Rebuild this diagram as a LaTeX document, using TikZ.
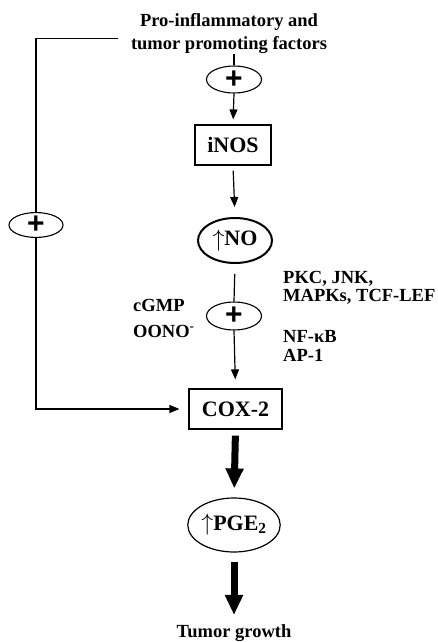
\documentclass[tikz,border=0pt]{standalone}
\usepackage{fontspec}
\setmainfont{Liberation Serif}
\newfontfamily\plusfont{Liberation Sans}
\usetikzlibrary{arrows.meta,shapes.geometric}
\tikzset{
  lbl/.style={font=\fontsize{18.5}{23}\selectfont\bfseries, inner sep=0pt},
  boxnode/.style={draw, line width=1.2pt, minimum height=40pt, inner sep=0pt,
    font=\fontsize{22}{26}\selectfont\bfseries},
  ovalnode/.style={draw, ellipse, line width=1.2pt, inner sep=0pt,
    font=\fontsize{22}{26}\selectfont\bfseries},
  plusnode/.style={draw, ellipse, fill=white, line width=1.1pt, inner sep=0pt,
    font=\plusfont\fontsize{30}{30}\selectfont\bfseries},
  thin/.style={line width=1.2pt},
  thinarrow/.style={line width=1.2pt, -{Triangle[width=8pt,length=10pt]}},
  thickarrow/.style={line width=7pt, -{Triangle[width=17pt,length=20pt]}},
}
\newcommand{\upmark}{\raisebox{-0.5pt}{\scalebox{1.15}{$\uparrow$}}}
\begin{document}
\begin{tikzpicture}[x=1pt,y=-1pt]
  \useasboundingbox (0,0) rectangle (437,642);

  % main chain
  \node[lbl, align=center] (title) at (229,34) {Pro-inflammatory and\\tumor promoting factors};
  \node[plusnode, minimum width=55pt, minimum height=27pt] (plusA) at (234,79.5) {+};
  \node[boxnode, minimum width=76pt] (inos) at (233,145) {iNOS};
  \node[ovalnode, line width=2pt, minimum width=74pt, minimum height=45pt] (no) at (235,240.5) {\upmark NO};
  \node[plusnode, minimum width=55pt, minimum height=28pt] (plusB) at (234,316) {+};
  \node[boxnode, minimum width=93pt] (cox) at (235.5,409) {COX-2};
  \node[ovalnode, minimum width=90pt, minimum height=54pt] (pge) at (234,525) {\upmark PGE\textsubscript{2}};
  \node[lbl, anchor=base] (tumor) at (234,637) {Tumor growth};

  % feedback branch
  \node[plusnode, minimum width=54pt, minimum height=22pt] (plusL) at (36,225) {+};
  \coordinate (fbstart) at (118,38.7);

  % side labels
  \node[lbl, anchor=base west] (pkc) at (283,283) {PKC, JNK,};
  \node[lbl, anchor=base west] (mapk) at (283,301) {MAPKs, TCF-LEF};
  \node[lbl, anchor=base west] (nfkb) at (283,342) {NF-κB};
  \node[lbl, anchor=base west] (ap1) at (283,361) {AP-1};
  \node[lbl, anchor=base west] (cgmp) at (133,311) {cGMP};
  \node[lbl, anchor=base west] (oono) at (133,337) {OONO\textsuperscript{-}};

  % connectors
  \draw[thin] (plusA.north |- title.south) -- (plusA.north);
  \draw[thinarrow, shorten >=5pt] (plusA.south) -- (inos.north);
  \draw[thinarrow, shorten <=5pt, shorten >=10pt] (inos.south) -- (no.north);
  \draw[thin, shorten <=10pt] (no.south) -- (plusB.north);
  \draw[thinarrow, shorten >=9pt] (plusB.south) -- (cox.north);
  \draw[thickarrow, shorten <=6pt, shorten >=9pt] (cox.south) -- (pge.north);
  \draw[thickarrow, shorten <=9pt, shorten >=9pt] (pge.south) -- (tumor.north);

  \draw[thin] (fbstart) -| (plusL.north);
  \draw[thinarrow, shorten >=9pt] (plusL.south) |- (cox.west);
\end{tikzpicture}
\end{document}
